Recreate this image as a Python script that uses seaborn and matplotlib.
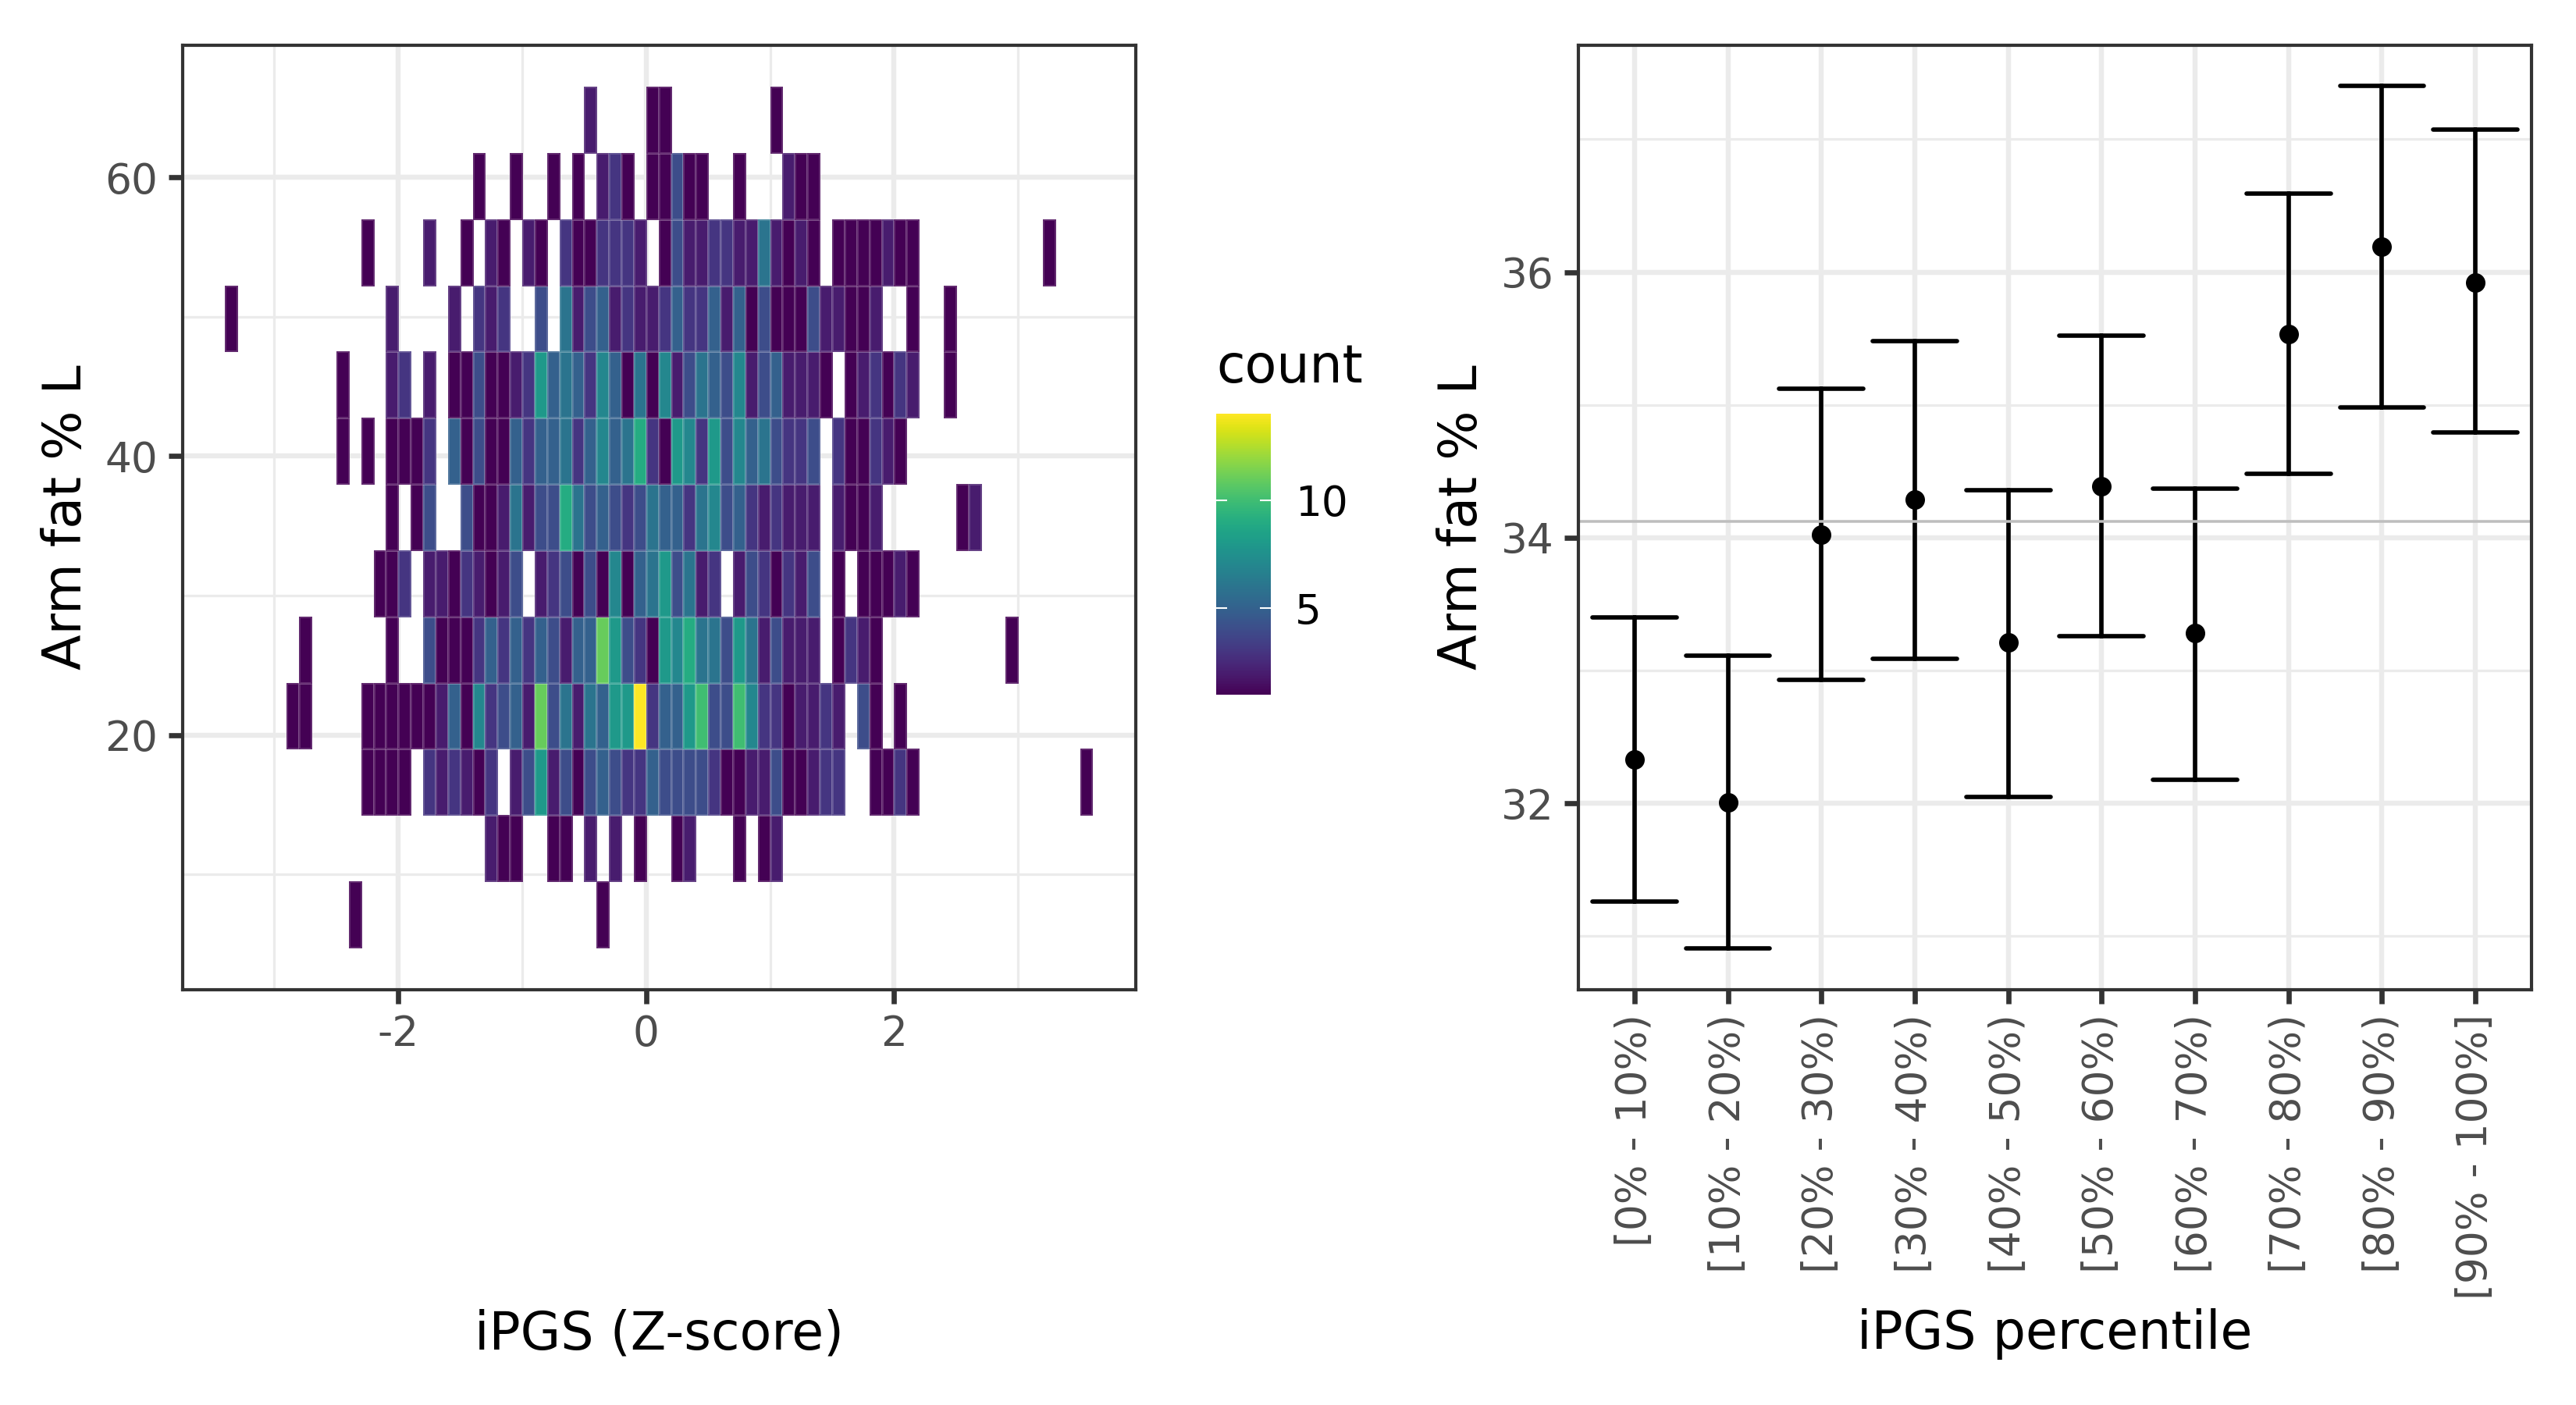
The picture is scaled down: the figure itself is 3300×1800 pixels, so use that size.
import numpy as np
import pandas as pd
import matplotlib
matplotlib.use('Agg')
import matplotlib.pyplot as plt
import seaborn as sns

# left panel: bin index along iPGS and the count in that bin, one pair per arm fat row, top row first
bins_r0 = [29, 34, 35, 44]
counts_r0 = [2, 1, 1, 1]
bins_r1 = [20, 23, 26, 28, 30, 31, 32, 34, 35, 36, 37, 38, 41, 45, 46, 47]
counts_r1 = [1, 1, 1, 1, 2, 3, 1, 1, 1, 4, 1, 1, 1, 2, 1, 1]
bins_r2 = [11, 16, 19, 21, 22, 24, 25, 27, 28, 29, 30, 31, 32, 33, 35, 36, 37, 38, 39, 40, 41, 42, 43, 44, 45, 46, 47, 49, 50, 51, 52, 53, 54, 55, 66]
counts_r2 = [1, 2, 1, 2, 1, 2, 1, 3, 1, 1, 3, 3, 3, 2, 1, 4, 2, 2, 3, 3, 2, 2, 6, 2, 1, 2, 1, 1, 1, 1, 1, 2, 1, 1, 1]
bins_r3 = [0, 13, 18, 20, 21, 22, 25, 27, 28, 29, 30, 31, 32, 33, 34, 35, 36, 37, 38, 39, 40, 41, 42, 43, 44, 45, 46, 47, 48, 49, 50, 51, 52, 55, 58]
counts_r3 = [1, 2, 2, 3, 2, 3, 4, 6, 2, 4, 5, 2, 3, 2, 2, 3, 5, 3, 3, 5, 2, 5, 1, 4, 1, 1, 1, 4, 2, 2, 1, 1, 2, 1, 1]
bins_r4 = [9, 13, 14, 16, 18, 19, 20, 21, 22, 23, 24, 25, 26, 27, 28, 29, 30, 31, 32, 33, 34, 35, 36, 37, 38, 39, 40, 41, 42, 43, 44, 45, 46, 47, 48, 50, 51, 52, 53, 54, 55, 58]
counts_r4 = [1, 2, 3, 2, 1, 1, 4, 1, 1, 2, 3, 8, 5, 6, 5, 3, 7, 5, 1, 6, 1, 7, 2, 4, 6, 5, 4, 7, 2, 4, 5, 2, 2, 2, 1, 1, 2, 3, 1, 3, 2, 1]
bins_r5 = [9, 11, 13, 14, 15, 16, 18, 19, 20, 21, 22, 23, 24, 25, 26, 27, 28, 29, 30, 31, 32, 33, 34, 35, 36, 37, 38, 39, 40, 41, 42, 43, 44, 45, 46, 47, 49, 50, 51, 52, 53, 54]
counts_r5 = [1, 1, 1, 1, 1, 3, 5, 1, 4, 1, 1, 5, 3, 5, 5, 6, 3, 5, 7, 5, 6, 9, 3, 1, 8, 7, 3, 8, 4, 7, 5, 6, 4, 3, 3, 4, 3, 1, 1, 3, 2, 1]
bins_r6 = [13, 15, 16, 19, 20, 21, 22, 23, 24, 25, 26, 27, 28, 29, 30, 31, 32, 33, 34, 35, 36, 37, 38, 39, 40, 41, 42, 43, 44, 45, 46, 47, 49, 50, 51, 52, 59, 60]
counts_r6 = [1, 1, 4, 4, 1, 1, 2, 6, 2, 4, 4, 9, 6, 4, 5, 4, 3, 4, 6, 5, 5, 3, 6, 7, 4, 5, 3, 2, 3, 2, 2, 2, 2, 1, 1, 2, 1, 2]
bins_r7 = [12, 13, 14, 16, 17, 18, 19, 20, 21, 22, 23, 25, 26, 27, 28, 29, 30, 31, 32, 33, 34, 35, 36, 37, 38, 39, 41, 42, 43, 44, 45, 46, 47, 49, 51, 52, 53, 54, 55]
counts_r7 = [1, 1, 3, 2, 2, 1, 3, 2, 1, 2, 4, 2, 3, 4, 1, 4, 1, 7, 1, 5, 6, 8, 4, 6, 2, 3, 2, 4, 3, 1, 3, 2, 4, 1, 1, 1, 1, 2, 1]
bins_r8 = [6, 13, 16, 17, 18, 19, 20, 21, 22, 23, 24, 25, 26, 27, 28, 29, 30, 31, 32, 33, 34, 35, 36, 37, 38, 39, 40, 41, 42, 43, 44, 45, 46, 47, 49, 50, 51, 52, 63]
counts_r8 = [1, 1, 4, 1, 1, 1, 3, 5, 3, 5, 3, 5, 4, 2, 5, 5, 11, 8, 4, 3, 1, 8, 7, 9, 6, 6, 4, 8, 6, 2, 4, 2, 2, 2, 1, 3, 2, 1, 1]
bins_r9 = [5, 6, 11, 12, 13, 14, 15, 16, 17, 18, 19, 20, 21, 22, 23, 24, 25, 26, 27, 28, 29, 30, 31, 32, 33, 34, 35, 36, 37, 38, 39, 40, 41, 42, 43, 44, 45, 46, 47, 48, 49, 51, 52, 54]
counts_r9 = [1, 1, 1, 1, 1, 1, 1, 1, 2, 5, 1, 7, 3, 4, 5, 2, 11, 4, 6, 2, 6, 5, 8, 8, 14, 3, 5, 5, 8, 10, 4, 4, 10, 7, 3, 3, 1, 2, 2, 3, 2, 4, 1, 1]
bins_r10 = [11, 12, 13, 14, 16, 17, 18, 19, 20, 21, 23, 24, 25, 26, 27, 28, 29, 30, 31, 32, 33, 34, 35, 36, 37, 38, 39, 40, 41, 42, 43, 44, 45, 46, 47, 48, 49, 52, 53, 54, 55, 69]
counts_r10 = [1, 1, 1, 1, 3, 2, 3, 2, 1, 3, 2, 4, 8, 2, 4, 1, 4, 5, 4, 3, 3, 5, 4, 4, 4, 4, 3, 1, 1, 2, 2, 4, 1, 1, 2, 3, 3, 1, 1, 3, 1, 1]
bins_r11 = [21, 22, 23, 26, 27, 29, 31, 33, 36, 37, 41, 43, 44]
counts_r11 = [2, 1, 1, 1, 1, 2, 2, 1, 1, 2, 1, 1, 2]
bins_r12 = [10, 30]
counts_r12 = [1, 1]

# right panel
percentiles = ['[0% - 10%)', '[10% - 20%)', '[20% - 30%)', '[30% - 40%)', '[40% - 50%)',
               '[50% - 60%)', '[60% - 70%)', '[70% - 80%)', '[80% - 90%)', '[90% - 100%]']
mean_fat = [32.33, 32.01, 34.02, 34.29, 33.21, 34.39, 33.28, 35.53, 36.19, 35.92]
lower_fat = [31.26, 30.91, 32.93, 33.09, 32.05, 33.26, 32.18, 34.48, 34.98, 34.79]
upper_fat = [33.40, 33.11, 35.12, 35.48, 34.36, 35.52, 34.37, 36.59, 37.40, 37.07]
overall_mean = 34.12

x_edges = np.linspace(-3.4, 3.6, 71)
y_edges = np.linspace(66.5, 4.76, 14)

all_bins = [bins_r0, bins_r1, bins_r2, bins_r3, bins_r4, bins_r5, bins_r6,
            bins_r7, bins_r8, bins_r9, bins_r10, bins_r11, bins_r12]
all_counts = [counts_r0, counts_r1, counts_r2, counts_r3, counts_r4, counts_r5, counts_r6,
              counts_r7, counts_r8, counts_r9, counts_r10, counts_r11, counts_r12]

records = []
for r, (row_bins, row_counts) in enumerate(zip(all_bins, all_counts)):
    for b, c in zip(row_bins, row_counts):
        records.append({'ipgs': (x_edges[b] + x_edges[b + 1]) / 2,
                        'fat': (y_edges[r] + y_edges[r + 1]) / 2,
                        'count': c})
df_bins = pd.DataFrame(records)

df_ci = pd.DataFrame({
    'percentile': percentiles * 3,
    'fat': lower_fat + mean_fat + upper_fat,
})

sns.set_theme(style='white', font='DejaVu Sans')
plt.rcParams['axes.unicode_minus'] = False

W, H = 3300, 1800
dark = '#333333'
label_grey = '#4D4D4D'
grid_grey = '#EBEBEB'


def px_axes(fig, x0, y0, x1, y1):
    return fig.add_axes([x0 / W, 1 - y1 / H, (x1 - x0) / W, (y1 - y0) / H])


def style_axes(ax):
    ax.set_axisbelow(True)
    ax.grid(True, which='major', color=grid_grey, linewidth=1.55)
    ax.grid(True, which='minor', color=grid_grey, linewidth=0.78)
    ax.tick_params(which='major', length=4.4, width=1.6, color=dark, labelcolor=label_grey,
                   labelsize=12.8, pad=3.2, bottom=True, left=True)
    ax.tick_params(which='minor', length=0)
    for s in ax.spines.values():
        s.set_color(dark)
        s.set_linewidth(1.0)
        s.set_zorder(20)


fig = plt.figure(figsize=(11, 6), dpi=300, facecolor='white')
ax1 = px_axes(fig, 234, 57.5, 1455, 1267.5)
ax2 = px_axes(fig, 2022, 57.5, 3243, 1267.5)
cax = px_axes(fig, 1558, 530, 1628, 890)

# Heatmap of counts
sns.histplot(data=df_bins, x='ipgs', y='fat', weights='count', bins=[x_edges, y_edges[::-1]],
             cmap='viridis', vmin=1, vmax=14, cbar=True, cbar_ax=cax, ax=ax1)
mesh = ax1.collections[0]
# faint seams between filled cells only, empty cells stay clear so the grid is not cut
empty = np.ma.getmaskarray(mesh.get_array()).ravel()
seams = np.ones((empty.size, 4))
seams[:, 3] = np.where(empty, 0, 0.17)
mesh.set_edgecolor(seams)
mesh.set_linewidth(0.3)
mesh.set_antialiased(True)
ax1.set_xlim(-3.74, 3.95)
ax1.set_ylim(1.76, 69.5)
ax1.set_xticks([-2, 0, 2])
ax1.set_xticks([-3, -1, 1, 3], minor=True)
ax1.set_yticks([20, 40, 60])
ax1.set_yticks([10, 30, 50], minor=True)
style_axes(ax1)
ax1.set_xlabel('iPGS (Z-score)', fontsize=16, color='black', va='center')
ax1.xaxis.set_label_coords(0.5, -0.365)
ax1.set_ylabel('Arm fat % L', fontsize=16, color='black', va='center')
ax1.yaxis.set_label_coords(-0.122, 0.5)

# Colour bar
cbar = mesh.colorbar
cbar.outline.set_visible(False)
cbar.set_ticks([5, 10])
cax.tick_params(length=0, labelsize=12.8, labelcolor='black', pad=7.5)
cax.hlines([5, 10], 0, 0.2, color='white', linewidth=0.5)
cax.hlines([5, 10], 0.8, 1, color='white', linewidth=0.5)
fig.text(1558 / W, 1 - 490 / H, 'count', fontsize=16, color='black', ha='left', va='baseline')

# Mean with confidence interval per percentile bin
sns.pointplot(data=df_ci, x='percentile', y='fat', order=percentiles, estimator='median',
              errorbar=('pi', 100), color='black', linestyle='none', markers='o', markersize=5.5,
              markeredgewidth=0.5, capsize=0.9, err_kws={'linewidth': 1.35}, ax=ax2)
ax2.axhline(overall_mean, color='#BEBEBE', linewidth=0.85, zorder=10)
ax2.set_xlim(-0.6, 9.6)
ax2.set_ylim(30.60, 37.71)
ax2.set_yticks([32, 34, 36])
ax2.set_yticks([31, 33, 35, 37], minor=True)
style_axes(ax2)
ax2.tick_params(axis='x', which='major', labelrotation=90)
ax2.set_xlabel('iPGS percentile', fontsize=16, color='black', va='center')
ax2.xaxis.set_label_coords(0.5, -0.365)
ax2.set_ylabel('Arm fat % L', fontsize=16, color='black', va='center')
ax2.yaxis.set_label_coords(-0.122, 0.5)

fig.savefig('out.png', dpi=300, facecolor='white')
